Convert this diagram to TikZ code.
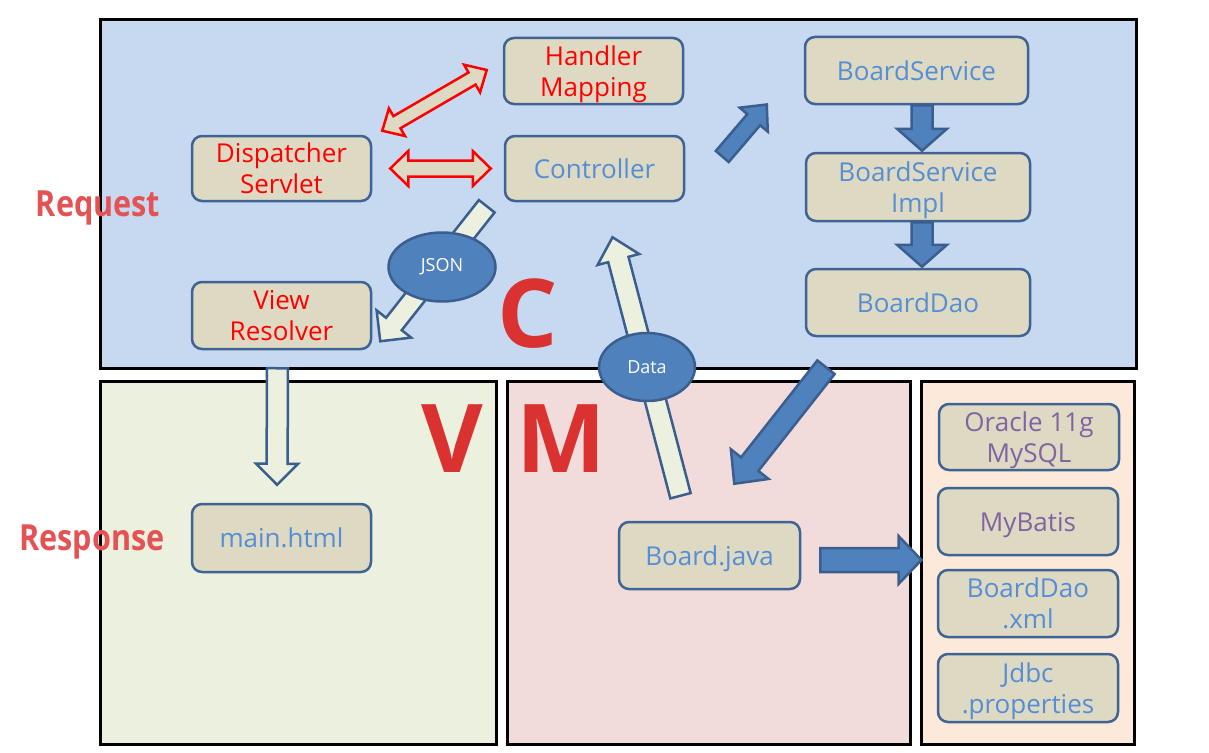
\documentclass[tikz,border=0pt]{standalone}
\usepackage{fontspec}
\setmainfont{Open Sans}
\newfontfamily\sidefont[FakeStretch=0.85]{Open Sans}
\usetikzlibrary{calc, shapes.geometric}
\definecolor{ctrlbg}{HTML}{C6D9F1}
\definecolor{viewbg}{HTML}{EBF1DE}
\definecolor{modelbg}{HTML}{F2DCDB}
\definecolor{dbbg}{HTML}{FDE9D9}
\definecolor{boxfill}{HTML}{DDD9C3}
\definecolor{boxline}{HTML}{3F6494}
\definecolor{bluetext}{HTML}{558ED5}
\definecolor{purpletext}{HTML}{8064A2}
\definecolor{arrowblue}{HTML}{4F81BD}
\definecolor{arrowline}{HTML}{3A5F8E}
\definecolor{hollowfill}{HTML}{EBF1DE}
\definecolor{letterred}{RGB}{218,50,48}
\definecolor{sidered}{RGB}{228,82,84}

% last line without its descender, so the text sits in the middle
\newcommand{\nodepth}[1]{\raisebox{0pt}[\height][0pt]{#1}}

% block arrow: [style] {from} {to} {shaft width} {head width} {head length}
\newcommand{\blockarrow}[6][]{%
  \coordinate (ba-a) at (#2);
  \coordinate (ba-b) at (#3);
  \coordinate (ba-h) at ($(ba-b)!#6!(ba-a)$);
  \draw[#1] ($(ba-a)!#4/2!90:(ba-b)$) -- ($(ba-h)!#4/2!90:(ba-b)$)
    -- ($(ba-h)!#5/2!90:(ba-b)$) -- (ba-b) -- ($(ba-h)!#5/2!-90:(ba-b)$)
    -- ($(ba-h)!#4/2!-90:(ba-b)$) -- ($(ba-a)!#4/2!-90:(ba-b)$) -- cycle;
}
% same with a head at both ends
\newcommand{\dblockarrow}[6][]{%
  \coordinate (ba-a) at (#2);
  \coordinate (ba-b) at (#3);
  \coordinate (ba-h) at ($(ba-b)!#6!(ba-a)$);
  \coordinate (ba-g) at ($(ba-a)!#6!(ba-b)$);
  \draw[#1] (ba-a) -- ($(ba-g)!#5/2!90:(ba-b)$) -- ($(ba-g)!#4/2!90:(ba-b)$)
    -- ($(ba-h)!#4/2!90:(ba-b)$) -- ($(ba-h)!#5/2!90:(ba-b)$) -- (ba-b)
    -- ($(ba-h)!#5/2!-90:(ba-b)$) -- ($(ba-h)!#4/2!-90:(ba-b)$)
    -- ($(ba-g)!#4/2!-90:(ba-b)$) -- ($(ba-g)!#5/2!-90:(ba-b)$) -- cycle;
}

\tikzset{
  region/.style={draw=black, line width=3pt, inner sep=0pt},
  box/.style={draw=boxline, line width=2.5pt, fill=boxfill, rounded corners=10pt,
    minimum width=179pt, minimum height=66pt, inner sep=0pt, align=center,
    font=\fontsize{26}{31}\selectfont},
  tag/.style={ellipse, draw=arrowline, line width=2.5pt, fill=arrowblue, text=white,
    inner sep=0pt, font=\fontsize{18}{20}\selectfont},
  solidarrow/.style={draw=arrowline, line width=2.5pt, fill=arrowblue, line join=miter},
  hollowarrow/.style={draw=arrowline, line width=2.5pt, fill=hollowfill, line join=miter},
  redarrow/.style={draw=red, line width=2.5pt, fill=boxfill, line join=miter},
  mvc/.style={font=\bfseries\fontsize{95}{95}\selectfont, text=letterred, inner sep=0pt},
  side/.style={font=\sidefont\bfseries\fontsize{36}{38}\selectfont, text=sidered, inner sep=0pt}
}

\begin{document}
\begin{tikzpicture}[x=1pt, y=-1pt]
        \useasboundingbox (0,0) rectangle (1209,752);

        % Regions
        \node[region, fill=ctrlbg, minimum width=1036pt, minimum height=348pt] (creg) at (618,194) {};
        \node[region, fill=viewbg, minimum width=396pt, minimum height=363pt] (vreg) at (298,562.5) {};
        \node[region, fill=modelbg, minimum width=403pt, minimum height=363pt] (mreg) at (708.5,562.5) {};
        \node[region, fill=dbbg, minimum width=213pt, minimum height=363pt] (rreg) at (1027.5,562.5) {};

        % Controller part
        \node[box, text=red] (map) at (593.5,71) {Handler\\\nodepth{Mapping}};
        \node[box, text=red, minimum height=65pt] (disp) at (281.5,168.5) {Dispatcher\\\nodepth{Servlet}};
        \node[box, text=bluetext, minimum height=65pt] (ctrl) at (594.5,168.5) {Controller};
        \node[box, text=red, minimum height=67pt] (view) at (281.5,315.5) {View\\\nodepth{Resolver}};
        \node[box, text=bluetext, minimum width=223pt, minimum height=67pt] (svc) at (916.5,70.5) {BoardService};
        \node[box, text=bluetext, minimum width=224pt, minimum height=68pt] (impl) at (918,187) {BoardService\\\nodepth{Impl}};
        \node[box, text=bluetext, minimum width=224pt, minimum height=67pt] (dao) at (918,302.5) {BoardDao};

        % View and model parts
        \node[box, text=bluetext, minimum height=68pt] (html) at (281.5,538) {main.html};
        \node[box, text=bluetext, minimum width=181pt, minimum height=67pt] (bjava) at (709.5,555.5) {\nodepth{Board.java}};

        % Libraries
        \node[box, text=purpletext, minimum width=180pt] (ora) at (1029,437) {Oracle 11g\\\nodepth{MySQL}};
        \node[box, text=purpletext, minimum width=180pt, minimum height=67pt] (mybatis) at (1028,521.5) {\nodepth{MyBatis}};
        \node[box, text=bluetext, minimum width=180pt, minimum height=67pt] (daoxml) at (1028,603.5) {BoardDao\\\nodepth{.xml}};
        \node[box, text=bluetext, minimum width=180pt, minimum height=68pt] (jdbc) at (1028,688) {Jdbc\\\nodepth{.properties}};

        % Arrows
        \dblockarrow[redarrow]{$(disp.east)!18pt!(ctrl.west)$}{$(ctrl.west)!13pt!(disp.east)$}{16pt}{35pt}{18pt}
        \dblockarrow[redarrow]{$(disp.north east)+(10,-4)$}{$(map.west)+(-16,-1)$}{14pt}{32pt}{17pt}
        \blockarrow[hollowarrow]{$(ctrl.south west)+(-17,4)$}{$(view.south east)+(8,-9)$}{20pt}{44pt}{22pt}
        \blockarrow[hollowarrow]{$(bjava.north)+(-29,-25)$}{$(ctrl.south)+(18,35)$}{21pt}{43pt}{23pt}
        \blockarrow[solidarrow]{$(ctrl.east)+(37,-12)$}{$(svc.west)+(-37,34)$}{17pt}{37pt}{20pt}
        \blockarrow[solidarrow]{$(svc.south)+(5.5,0)$}{$(impl.north)+(4,-1)$}{21pt}{50pt}{22pt}
        \blockarrow[solidarrow]{$(impl.south)+(4,0)$}{$(dao.north)+(4,-1)$}{21pt}{50pt}{22pt}
        \blockarrow[solidarrow]{$(dao.south)+(-92,30)$}{$(bjava.north east)+(-67,-37)$}{22pt}{48pt}{25pt}
        \blockarrow[solidarrow]{$(bjava.east)+(19,4.5)$}{$(rreg.west)+(2,-2.5)$}{24pt}{48pt}{23pt}
        \blockarrow[hollowarrow]{$(view.south)+(-4,18)$}{$(html.north)+(-4.5,-18)$}{21pt}{42pt}{21pt}

        % Tags on the arrows
        \node[tag, minimum width=107pt, minimum height=69pt] (json) at (442,267) {JSON};
        \node[tag, minimum width=96pt, minimum height=68pt] (data) at (647,367) {Data};

        % Letters and side labels
        \node[mvc] (cletter) at (528,314) {C};
        \node[mvc] (vletter) at (452,439) {V};
        \node[mvc] (mletter) at (561,439) {M};
        \node[side] (req) at (98,204) {\nodepth{Request}};
        \node[side] (resp) at (92,538) {\nodepth{Response}};
\end{tikzpicture}
\end{document}
